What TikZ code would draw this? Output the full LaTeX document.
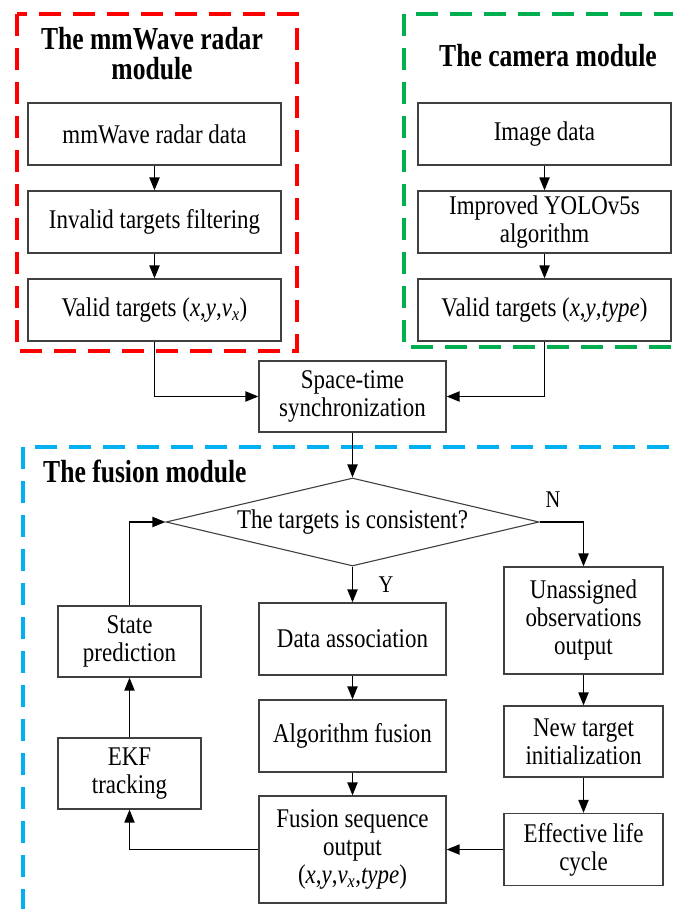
\documentclass[tikz,border=0pt]{standalone}
\usepackage{fontspec}
\setmainfont{Liberation Serif}[FakeStretch=0.85]
\newfontfamily\headfont{Liberation Serif}[FakeStretch=0.8]
\usetikzlibrary{arrows.meta}
\usetikzlibrary{positioning}
\usetikzlibrary{shapes.geometric}

\definecolor{radarred}{HTML}{FF0000}
\definecolor{camgreen}{HTML}{00B050}
\definecolor{fuseblue}{HTML}{00B0F0}

\newcommand{\iv}[1]{\textit{#1}}

\begin{document}
\begin{tikzpicture}[x=1pt,y=1pt,node distance=88pt,
  box/.style={draw=black!75,line width=1.1pt,fill=white,align=center,inner sep=2pt,
    minimum width=253pt,minimum height=62pt,font=\fontsize{27}{28}\selectfont},
  decision/.style={diamond,draw=black!75,line width=1.1pt,aspect=4.2,inner sep=0pt,
    minimum width=373pt,minimum height=88pt,font=\fontsize{27}{28}\selectfont},
  head/.style={align=center,inner sep=0pt,font=\headfont\bfseries\fontsize{32}{30}\selectfont},
  lab/.style={inner sep=0pt,font=\fontsize{24}{24}\selectfont},
  flow/.style={line width=1.9pt,-{Triangle[length=13pt,width=10pt]}},
  modframe/.style={line width=3.2pt,dash pattern=on 22pt off 12pt}]
  \useasboundingbox (0,0) rectangle (672,-909);

  % module frames
  \draw[modframe,radarred](17,-14) rectangle (297,-351);
  \draw[modframe,camgreen](404,-14) rectangle (700,-347);
  \draw[modframe,fuseblue](23,-447) rectangle (700,-960);

  \node[head] (t1) at (152,-54) {The mmWave radar\\module};
  \node[head] (t2) at (548,-56) {The camera module};
  \node[head,anchor=base west] (t3) at (43,-482) {The fusion module};

  % radar and camera
  \node[box] (r1) at (154.5,-134) {mmWave radar data};
  \node[box,below of =r1] (r2) {Invalid targets filtering};
  \node[box,below of =r2] (r3) {Valid targets (\iv{x},\iv{y},\iv{v}\textsubscript{\iv{x}})};

  \node[box] (c1) at (544.5,-134) {Image data};
  \node[box,below of =c1] (c2) {Improved YOLOv5s\\algorithm};
  \node[box,below of =c2] (c3) {Valid targets (\iv{x},\iv{y},\iv{type})};

  \node[box,minimum width=187pt,minimum height=71pt] (s) at (352.5,-396.5) {Space-time\\synchronization};

  % fusion
  \node[decision] (d) at (352.5,-522) {The targets is consistent?};
  \node[lab] (yes) at (386,-585) {Y};
  \node[lab] (no) at (553,-500) {N};

  \node[box,minimum width=187pt,minimum height=72pt] (a1) at (352.5,-639) {Data association};
  \node[box,minimum width=187pt,minimum height=72pt,node distance=97pt,below of =a1] (a2) {Algorithm fusion};
  \node[box,minimum width=187pt,minimum height=107pt] (a3) at (352.5,-849.5) {Fusion sequence\\output\\(\iv{x},\iv{y},\iv{v}\textsubscript{\iv{x}},\iv{type})};

  \node[box,minimum width=143pt,minimum height=71pt] (p1) at (129.5,-641.5) {State\\prediction};
  \node[box,minimum width=143pt,minimum height=71pt,node distance=132pt,below of =p1] (p2) {EKF\\tracking};

  \node[box,minimum width=159pt,minimum height=107pt] (u1) at (583.5,-620.5) {Unassigned\\observations\\output};
  \node[box,minimum width=159pt,minimum height=71pt,node distance=121pt,below of =u1] (u2) {New target\\initialization};
  \node[box,minimum width=159pt,minimum height=72pt] (u3) at (583.5,-849.5) {Effective life\\cycle};

  \draw[flow](r1)--(r2);
  \draw[flow](r2)--(r3);
  \draw[flow](c1)--(c2);
  \draw[flow](c2)--(c3);
  \draw[flow](r3.south)|-(s.west);
  \draw[flow](c3.south)|-(s.east);
  \draw[flow](s)--(d);

  \draw[flow](d.south)--(a1);
  \draw[flow](d.east)-|(u1.north);
  \draw[flow](p1.north)|-(d.west);
  \draw[flow](a1)--(a2);
  \draw[flow](a2)--(a3);
  \draw[flow](u1)--(u2);
  \draw[flow](u2)--(u3);
  \draw[flow](u3)--(a3);
  \draw[flow](a3.west)-|(p2.south);
  \draw[flow](p2)--(p1);
\end{tikzpicture}
\end{document}
